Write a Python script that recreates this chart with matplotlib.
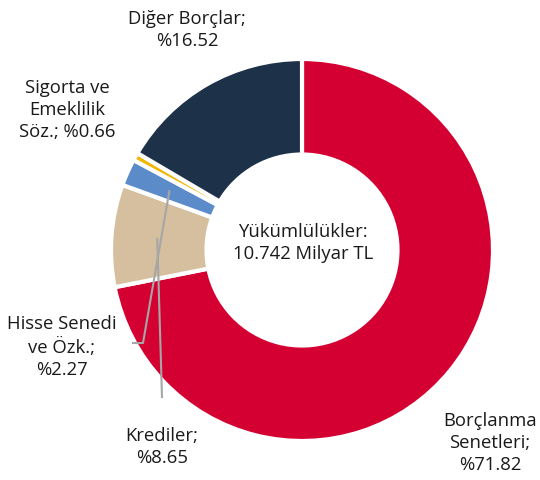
import numpy as np
import matplotlib.pyplot as plt

plt.rcParams['font.family'] = ['Open Sans', 'DejaVu Sans']

# veriler
labels = ['Borçlanma\nSenetleri;\n%71.82', 'Krediler;\n%8.65', 'Hisse Senedi\nve Özk.;\n%2.27',
          'Sigorta ve\nEmeklilik\nSöz.; %0.66', 'Diğer Borçlar;\n%16.52']
values = [71.82, 8.65, 2.27, 0.66, 16.52]
colors = ['#D50032', '#D5BF9E', '#5B8BC9', '#F2B705', '#1D3148']
center_text = 'Yükümlülükler:\n10.742 Milyar TL'

fig = plt.figure(figsize=(5.4, 4.8), dpi=100)
ax = fig.add_axes([0, 0, 1, 1])

# piksel -> veri koordinatı (merkez 302,250 ; yarıçap 191 px)
cx, cy, R = 302, 250, 191
def px(x, y):
    return (x - cx) / R, (cy - y) / R

wedges, _ = ax.pie(values, colors=colors, startangle=90, counterclock=False, radius=1,
                   wedgeprops=dict(width=0.5, edgecolor='white', linewidth=3))

ax.set_xlim(-cx / R, (540 - cx) / R)
ax.set_ylim(-(480 - cy) / R, cy / R)
ax.set_aspect('equal')
ax.axis('off')

# etiket konumları (piksel)
label_pos = [(490, 443), (162, 447), (62, 347), (67, 110), (187, 30)]
for lab, (x, y) in zip(labels, label_pos):
    tx, ty = px(x, y)
    ax.text(tx, ty, lab, ha='center', va='center', fontsize=13.3, linespacing=1.3, color='#1a1a1a')

ax.text(*px(303, 243), center_text, ha='center', va='center', fontsize=13.3, linespacing=1.3,
        color='#1a1a1a')

# kılavuz çizgileri
def mid(w):
    a = np.deg2rad((w.theta1 + w.theta2) / 2)
    return 0.76 * np.cos(a), 0.76 * np.sin(a)

line_col = '#A6A6A6'
sx, sy = mid(wedges[1])
ex, ey = px(162, 397)
ax.plot([sx, ex], [sy, ey], color=line_col, lw=1.5)

sx, sy = mid(wedges[2])
ex, ey = px(143, 343)
hx, hy = px(133, 343)
ax.plot([sx, ex, hx], [sy, ey, hy], color=line_col, lw=1.5)

fig.savefig('out.png', dpi=100)
